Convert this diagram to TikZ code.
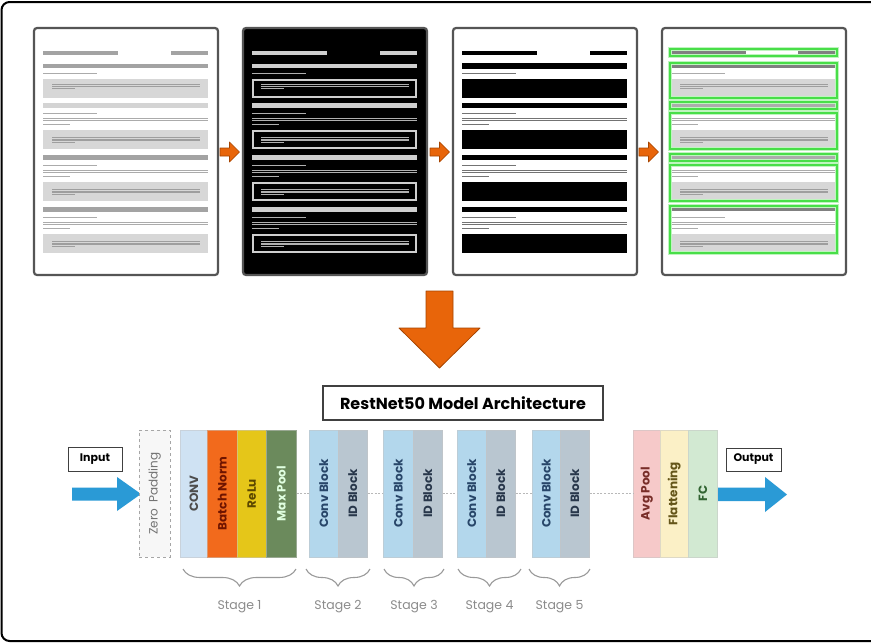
\documentclass[tikz,border=0pt]{standalone}
\usepackage{fontspec}
\setmainfont{Poppins}
\usepackage{graphicx}
\usetikzlibrary{decorations.pathreplacing}
\definecolor{frameg}{HTML}{555555}
\definecolor{barg}{HTML}{A3A3A3}
\definecolor{lbarg}{HTML}{D4D4D4}
\definecolor{lineg}{HTML}{ABABAB}
\definecolor{blockg}{HTML}{D7D7D7}
\definecolor{innerg}{HTML}{9E9E9E}
\definecolor{revg}{HTML}{CFCFCF}
\definecolor{hlgreen}{RGB}{72,222,72}
\definecolor{glowgreen}{RGB}{190,245,190}
\definecolor{orangeA}{HTML}{E8650A}
\definecolor{orangeD}{HTML}{A54400}
\definecolor{blueA}{RGB}{42,154,214}
\definecolor{convc}{HTML}{CFE2F3}
\definecolor{bnc}{HTML}{F26A1C}
\definecolor{reluc}{HTML}{E5C619}
\definecolor{mpc}{HTML}{6B8A5C}
\definecolor{cbc}{HTML}{B3D7EC}
\definecolor{idc}{HTML}{B9C6D0}
\definecolor{avgc}{HTML}{F6C9C9}
\definecolor{flatc}{HTML}{FBF0C6}
\definecolor{fcc}{HTML}{D2E9D2}
\definecolor{bracec}{HTML}{9A9A9A}
\tikzset{
  panelframe/.style={draw=frameg, line width=2.2pt, rounded corners=3pt},
  greenbox/.style={draw=hlgreen, line width=1.7pt, preaction={draw=glowgreen, line width=3.6pt}},
  blk/.style={minimum height=127pt, inner sep=0pt, anchor=west, draw=#1!80!black!60, line width=0.6pt, fill=#1, font=\bfseries\fontsize{12}{12}\selectfont},
  lblbox/.style={draw=black!75, line width=1pt, inner sep=0pt, font=\bfseries\fontsize{11}{11}\selectfont},
  dotconn/.style={draw=black!28, line width=1.4pt, dash pattern=on 2pt off 1.6pt},
  stagebrace/.style={draw=bracec, line width=1.1pt, decorate, decoration={brace, mirror, amplitude=17pt}},
  stagelbl/.style={text=black!45, font=\fontsize{12.5}{13}\selectfont, inner sep=0pt},
  smallarrow/.style={fill=orangeA, draw=orangeD, line width=0.6pt, line join=round},
}
\begin{document}
\begin{tikzpicture}[x=1pt,y=-1pt]
\useasboundingbox (0,0) rectangle (871,643);
\fill[white] (0,0) rectangle (871,643);
\draw[black, line width=2pt, rounded corners=8pt] (1.5,2) rectangle (890,641);

% ---------- Panel 1 : original document ----------
\begin{scope}[shift={(34,28)}]
  \draw[panelframe, fill=white] (0,0) rectangle (184,247);
  \fill[barg] (9,22.5) rectangle (84,26.5);
  \fill[barg] (137,22.5) rectangle (174,26.5);
  \fill[barg] (9,35.5) rectangle (174,40);
  \fill[lineg] (9,44.5) rectangle (63,45.8);
  \fill[blockg] (9,51) rectangle (174,70);
  \fill[innerg] (18,55.5) rectangle (166,56.7);
  \fill[innerg] (18,57.8) rectangle (166,59);
  \fill[innerg] (18,60) rectangle (41,61.2);
  \foreach \d/\c in {0/lbarg,52/barg,104/barg}{
    \fill[\c] (9,75+\d) rectangle (174,79.5+\d);
    \fill[lineg] (9,84.5+\d) rectangle (63,85.8+\d);
    \fill[lineg] (9,89.5+\d) rectangle (174,90.8+\d);
    \fill[lineg] (9,92+\d) rectangle (174,93.3+\d);
    \fill[lineg] (9,96+\d) rectangle (36,97.3+\d);
    \fill[blockg] (9,102+\d) rectangle (174,121+\d);
    \fill[innerg] (18,109+\d) rectangle (166,110.2+\d);
    \fill[innerg] (18,111.3+\d) rectangle (166,112.5+\d);
    \fill[innerg] (18,114+\d) rectangle (41,115.2+\d);
  }
\end{scope}

% ---------- Panel 2 : inverted ----------
\begin{scope}[shift={(243,28)}]
  \draw[panelframe, fill=black] (0,0) rectangle (184,247);
  \fill[revg] (9,22.5) rectangle (84,26.5);
  \fill[revg] (137,22.5) rectangle (174,26.5);
  \fill[revg] (9,35.5) rectangle (174,40);
  \fill[revg!85!black] (9,44.5) rectangle (63,45.8);
  \draw[revg, line width=1.7pt] (9.8,51.8) rectangle (173.2,69.2);
  \fill[revg!85!black] (18,55.5) rectangle (166,56.7);
  \fill[revg!85!black] (18,57.8) rectangle (166,59);
  \fill[revg!85!black] (18,60) rectangle (41,61.2);
  \foreach \d in {0,52,104}{
    \fill[revg] (9,75+\d) rectangle (174,79.5+\d);
    \fill[revg!85!black] (9,84.5+\d) rectangle (63,85.8+\d);
    \fill[revg!85!black] (9,89.5+\d) rectangle (174,90.8+\d);
    \fill[revg!85!black] (9,92+\d) rectangle (174,93.3+\d);
    \fill[revg!85!black] (9,96+\d) rectangle (36,97.3+\d);
    \draw[revg, line width=1.7pt] (9.8,102.8+\d) rectangle (173.2,120.2+\d);
    \fill[revg!85!black] (18,109+\d) rectangle (166,110.2+\d);
    \fill[revg!85!black] (18,111.3+\d) rectangle (166,112.5+\d);
    \fill[revg!85!black] (18,114+\d) rectangle (41,115.2+\d);
  }
\end{scope}

% ---------- Panel 3 : binarised ----------
\begin{scope}[shift={(453,28)}]
  \draw[panelframe, fill=white] (0,0) rectangle (184,247);
  \fill[black] (9,22.5) rectangle (84,27);
  \fill[black] (137,22.5) rectangle (174,27);
  \fill[black] (9,35) rectangle (174,40.5);
  \fill[black!55] (9,44.5) rectangle (63,45.8);
  \fill[black] (9,51) rectangle (174,70);
  \foreach \d in {0,52,104}{
    \fill[black] (9,75+\d) rectangle (174,80+\d);
    \fill[black!55] (9,84.5+\d) rectangle (63,85.8+\d);
    \fill[black!55] (9,89.5+\d) rectangle (174,90.8+\d);
    \fill[black!55] (9,92+\d) rectangle (174,93.3+\d);
    \fill[black!55] (9,96+\d) rectangle (36,97.3+\d);
    \fill[black] (9,102+\d) rectangle (174,121+\d);
  }
\end{scope}

% ---------- Panel 4 : detected regions ----------
\begin{scope}[shift={(662,28)}]
  \draw[panelframe, fill=white] (0,0) rectangle (184,247);
  \fill[black!50] (9,22) rectangle (174,27);
  \fill[white] (84,23.2) rectangle (136,25.8);
  \draw[greenbox] (8,21) rectangle (175,28);
  % section 1
  \fill[black!50] (9,36) rectangle (174,39.5);
  \fill[lineg] (9,44.5) rectangle (63,45.8);
  \fill[blockg] (9,51) rectangle (174,70);
  \fill[innerg] (18,55.5) rectangle (166,56.7);
  \fill[innerg] (18,57.8) rectangle (166,59);
  \fill[innerg] (18,60) rectangle (41,61.2);
  \draw[greenbox] (8,35) rectangle (175,70);
  % sections 2 and 3
  \foreach \d in {0,52}{
    \fill[lineg] (9,76+\d) rectangle (174,79+\d);
    \draw[greenbox] (8,74+\d) rectangle (175,81+\d);
    \fill[lineg] (9,89.5+\d) rectangle (174,90.8+\d);
    \fill[lineg] (9,92+\d) rectangle (174,93.3+\d);
    \fill[lineg] (9,96+\d) rectangle (36,97.3+\d);
    \fill[blockg] (9,102+\d) rectangle (174,121+\d);
    \fill[innerg] (18,109+\d) rectangle (166,110.2+\d);
    \fill[innerg] (18,111.3+\d) rectangle (166,112.5+\d);
    \fill[innerg] (18,114+\d) rectangle (41,115.2+\d);
    \draw[greenbox] (8,85+\d) rectangle (175,121+\d);
  }
  % section 4
  \fill[black!50] (9,179) rectangle (174,182.5);
  \fill[lineg] (9,188.5) rectangle (63,189.8);
  \fill[lineg] (9,193.5) rectangle (174,194.8);
  \fill[lineg] (9,196) rectangle (174,197.3);
  \fill[lineg] (9,200) rectangle (36,201.3);
  \fill[blockg] (9,206) rectangle (174,225);
  \fill[innerg] (18,213) rectangle (166,214.2);
  \fill[innerg] (18,215.3) rectangle (166,216.5);
  \fill[innerg] (18,218) rectangle (41,219.2);
  \draw[greenbox] (8,178) rectangle (175,225);
\end{scope}

% ---------- small orange arrows ----------
\foreach \s in {0,210,419}{
  \draw[smallarrow, xshift=\s pt] (220,148) -- (229.5,148) -- (229.5,142) -- (239.5,152) -- (229.5,162) -- (229.5,156) -- (220,156) -- cycle;
}

% ---------- big down arrow ----------
\draw[fill=orangeA, draw=orangeD, line width=0.8pt, line join=round]
  (426,291) -- (453,291) -- (453,328) -- (480,328) -- (439.5,368) -- (399,328) -- (426,328) -- cycle;

% ---------- title ----------
\node[draw=black!75, line width=1.1pt, minimum width=280pt, minimum height=34pt, inner sep=0pt,
      font=\bfseries\fontsize{16}{16}\selectfont] (title) at (463,403) {RestNet50 Model Architecture};

% ---------- input / output ----------
\node[lblbox, minimum width=54pt, minimum height=24pt] (input) at (95,459) {Input};
\node[lblbox, minimum width=55pt, minimum height=23pt] (output) at (753.5,459.5) {Output};
\fill[blueA] (72,487.5) -- (117,487.5) -- (117,477) -- (141,494) -- (117,511) -- (117,500.5) -- (72,500.5) -- cycle;
\fill[blueA] (718,487.5) -- (765,487.5) -- (765,477) -- (787,494.5) -- (765,512) -- (765,501) -- (718,501) -- cycle;

% ---------- network blocks ----------
\node[minimum width=31pt, minimum height=127pt, inner sep=0pt, anchor=west, draw=black!35, dashed, fill=black!3,
      text=black!55, font=\fontsize{12}{12}\selectfont] (zero) at (139,493.5) {\rotatebox{90}{Zero \ Padding}};

\node[blk=convc, minimum width=27pt, text=black!70] (conv) at (180,493.5) {\rotatebox{90}{CONV}};
\node[blk=bnc, minimum width=30pt, text={rgb,255:red,110;green,20;blue,0}] (bn) at (207,493.5) {\rotatebox{90}{Batch Norm}};
\node[blk=reluc, minimum width=29pt, text={rgb,255:red,90;green,70;blue,0}] (relu) at (237,493.5) {\rotatebox{90}{ReLu}};
\node[blk=mpc, minimum width=30pt, text=white!88!green] (mp) at (266,493.5) {\rotatebox{90}{Max Pool}};

\node[blk=cbc, minimum width=29pt, text={rgb,255:red,40;green,70;blue,105}] (cb2) at (309,493.5) {\rotatebox{90}{Conv Block}};
\node[blk=idc, minimum width=29pt, text={rgb,255:red,40;green,55;blue,75}] (id2) at (338,493.5) {\rotatebox{90}{ID Block}};
\node[blk=cbc, minimum width=30pt, text={rgb,255:red,40;green,70;blue,105}] (cb3) at (383,493.5) {\rotatebox{90}{Conv Block}};
\node[blk=idc, minimum width=29pt, text={rgb,255:red,40;green,55;blue,75}] (id3) at (413,493.5) {\rotatebox{90}{ID Block}};
\node[blk=cbc, minimum width=29pt, text={rgb,255:red,40;green,70;blue,105}] (cb4) at (457,493.5) {\rotatebox{90}{Conv Block}};
\node[blk=idc, minimum width=29pt, text={rgb,255:red,40;green,55;blue,75}] (id4) at (486,493.5) {\rotatebox{90}{ID Block}};
\node[blk=cbc, minimum width=28pt, text={rgb,255:red,40;green,70;blue,105}] (cb5) at (532,493.5) {\rotatebox{90}{Conv Block}};
\node[blk=idc, minimum width=29pt, text={rgb,255:red,40;green,55;blue,75}] (id5) at (560,493.5) {\rotatebox{90}{ID Block}};

\node[blk=avgc, minimum width=27pt, text={rgb,255:red,120;green,45;blue,40}] (avg) at (633,493.5) {\rotatebox{90}{Avg Pool}};
\node[blk=flatc, minimum width=28pt, text={rgb,255:red,100;green,85;blue,25}] (flat) at (660,493.5) {\rotatebox{90}{Flattening}};
\node[blk=fcc, minimum width=29pt, text={rgb,255:red,50;green,100;blue,50}] (fc) at (688,493.5) {\rotatebox{90}{FC}};

% ---------- dotted connectors ----------
\draw[dotconn] (mp.east) -- (cb2.west);
\draw[dotconn] (id2.east) -- (cb3.west);
\draw[dotconn] (id3.east) -- (cb4.west);
\draw[dotconn] (id4.east) -- (cb5.west);
\draw[dotconn] (id5.east) -- (avg.west);

% ---------- braces and stage labels ----------
\draw[stagebrace] (183,569) -- (296,569);
\draw[stagebrace] (306,569) -- (370,569);
\draw[stagebrace] (384,569) -- (444,569);
\draw[stagebrace] (458,569) -- (521,569);
\draw[stagebrace] (529,569) -- (590,569);
\node[stagelbl] (s1) at (239.5,607) {Stage 1};
\node[stagelbl] (s2) at (338,607) {Stage 2};
\node[stagelbl] (s3) at (414,607) {Stage 3};
\node[stagelbl] (s4) at (489.5,607) {Stage 4};
\node[stagelbl] (s5) at (559.5,607) {Stage 5};
\end{tikzpicture}
\end{document}
